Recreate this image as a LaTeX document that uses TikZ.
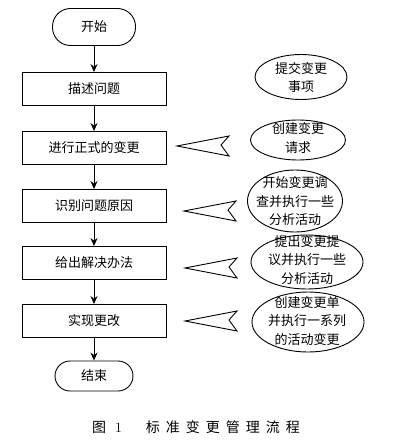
\documentclass[tikz,border=0pt]{standalone}
\usepackage{fontspec}
\newfontfamily\cjk{Noto Sans CJK SC}
\usetikzlibrary{shapes.geometric,arrows.meta}
\begin{document}
\begin{tikzpicture}[x=1pt,y=-1pt,
  every node/.style={font=\cjk\fontsize{13pt}{18.5pt}\selectfont},
  procbox/.style={draw,line width=0.9pt,minimum width=144pt,minimum height=33pt,inner sep=0pt},
  oval/.style={draw,ellipse,line width=0.9pt,inner sep=0pt},
  otext/.style={align=center,inner sep=0pt},
  flow/.style={line width=0.8pt,-{Stealth[length=8pt,width=7pt]}},
  callout/.style={draw,line width=0.9pt,line join=miter}]
\useasboundingbox (0,0) rectangle (400,444);

% flow column
\node[draw,line width=0.9pt,rounded corners=18pt,minimum width=83pt,minimum height=37pt,inner sep=0pt] (start) at (94,27) {开始};
\node[procbox] (b1) at (94,89) {描述问题};
\node[procbox] (b2) at (94,148) {进行正式的变更};
\node[procbox] (b3) at (94,206) {识别问题原因};
\node[procbox] (b4) at (94,263) {给出解决办法};
\node[procbox] (b5) at (94,321) {实现更改};
\node[draw,line width=0.9pt,rounded corners=15pt,minimum width=78pt,minimum height=30pt,inner sep=0pt] (stop) at (94,376) {结束};

\draw[flow] (start) -- (b1);
\draw[flow] (b1) -- (b2);
\draw[flow] (b2) -- (b3);
\draw[flow] (b3) -- (b4);
\draw[flow] (b4) -- (b5);
\draw[flow] (b5) -- (stop);

% ellipses
\node[oval,minimum width=92pt,minimum height=45pt] (e1) at (301,77) {};
\node[otext] (t1) at (301,77.5) {提交变更\\事项};
\node[oval,minimum width=95pt,minimum height=40pt] (e2) at (298,140) {};
\node[otext] (t2) at (298,138) {创建变更\\请求};
\node[oval,minimum width=95pt,minimum height=62pt] (e3) at (295,201) {};
\node[otext] (t3) at (295,201.5) {开始变更调\\查并执行一些\\分析活动};
\node[oval,minimum width=112pt,minimum height=54pt] (e4) at (307,262) {};
\node[otext] (t4) at (307,260) {提出变更提\\议并执行一些\\分析活动};
\node[oval,minimum width=112pt,minimum height=60pt] (e5) at (308,322) {};
\node[otext] (t5) at (307,321) {创建变更单\\并执行一系列\\的活动变更};

% hollow notched arrows
\coordinate (a2) at (177,146);
\coordinate (a3) at (184,211);
\coordinate (a4) at (185,268);
\coordinate (a5) at (185,321);
\foreach \a in {a2,a3,a4,a5}
  \draw[callout] (\a) -- ++(52,-10) -- ++(-8,9) -- ++(8,11) -- cycle;

% caption
\node[font=\cjk\fontsize{14pt}{16pt}\selectfont,inner sep=0pt] (cap) at (196,427)
  {图\kern9pt{\rmfamily 1}\kern24pt 标\kern6pt 准\kern6pt 变\kern6pt 更\kern6pt 管\kern6pt 理\kern6pt 流\kern6pt 程};
\end{tikzpicture}
\end{document}
